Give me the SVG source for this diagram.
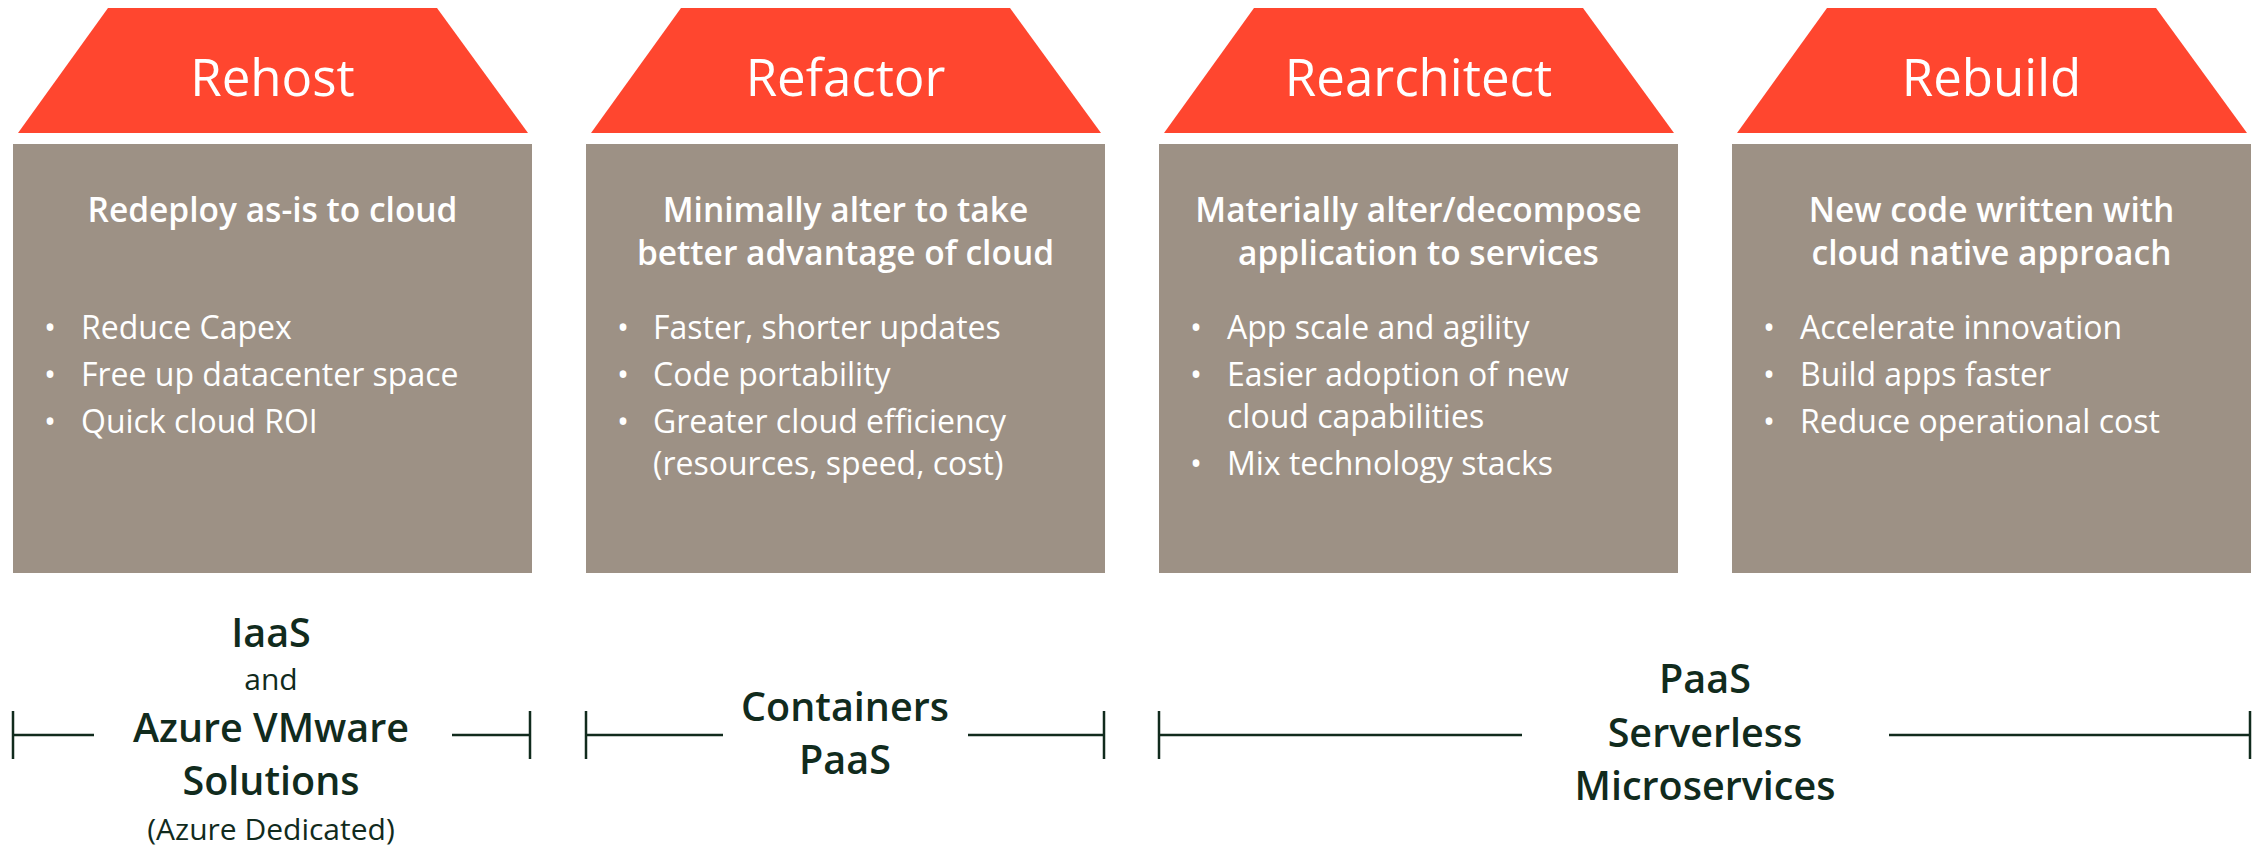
<svg xmlns="http://www.w3.org/2000/svg" width="2257" height="850" viewBox="0 0 2257 850">
<style>
.roof{fill:#ff462f}
.box{fill:#9d9185}
.title{font-family:"Open Sans","Noto Sans","DejaVu Sans",sans-serif;font-size:51px;fill:#ffffff;text-anchor:middle}
.sub{font-family:"Open Sans","Noto Sans","DejaVu Sans",sans-serif;font-size:33.5px;font-weight:600;fill:#ffffff;text-anchor:middle}
.bul{font-family:"Open Sans","Noto Sans","DejaVu Sans",sans-serif;font-size:32px;fill:#ffffff}
.dot{font-family:"Open Sans","Noto Sans","DejaVu Sans",sans-serif;font-size:32px;fill:#ffffff;text-anchor:middle}
.lbl{font-family:"Open Sans","Noto Sans","DejaVu Sans",sans-serif;font-size:39.5px;font-weight:600;fill:#112b1d;text-anchor:middle}
.lblr{font-family:"Open Sans","Noto Sans","DejaVu Sans",sans-serif;font-size:30px;fill:#112b1d;text-anchor:middle}
.br{stroke:#112b1d;stroke-width:2.5;fill:none}
</style>
<rect width="2257" height="850" fill="#ffffff"/>

<g id="rehost">
<polygon class="roof" points="108,8 437,8 528,133 18,133"/>
<rect class="box" x="13" y="144" width="519" height="429"/>
<text class="title" x="272.5" y="96">Rehost</text>
<text class="sub" x="272.5" y="222">Redeploy as-is to cloud</text>
<text class="dot" x="50" y="339">•</text><text class="bul" x="81" y="339">Reduce Capex</text>
<text class="dot" x="50" y="386">•</text><text class="bul" x="81" y="386">Free up datacenter space</text>
<text class="dot" x="50" y="433">•</text><text class="bul" x="81" y="433">Quick cloud ROI</text>
</g>

<g id="refactor">
<polygon class="roof" points="681,8 1010,8 1101,133 591,133"/>
<rect class="box" x="586" y="144" width="519" height="429"/>
<text class="title" x="845.5" y="96">Refactor</text>
<text class="sub" x="845.5" y="222">Minimally alter to take</text>
<text class="sub" x="845.5" y="265">better advantage of cloud</text>
<text class="dot" x="623" y="339">•</text><text class="bul" x="653" y="339">Faster, shorter updates</text>
<text class="dot" x="623" y="386">•</text><text class="bul" x="653" y="386">Code portability</text>
<text class="dot" x="623" y="433">•</text><text class="bul" x="653" y="433">Greater cloud efficiency</text>
<text class="bul" x="653" y="475">(resources, speed, cost)</text>
</g>

<g id="rearchitect">
<polygon class="roof" points="1254,8 1583,8 1674,133 1164,133"/>
<rect class="box" x="1159" y="144" width="519" height="429"/>
<text class="title" x="1418.5" y="96">Rearchitect</text>
<text class="sub" x="1418.5" y="222">Materially alter/decompose</text>
<text class="sub" x="1418.5" y="265">application to services</text>
<text class="dot" x="1196" y="339">•</text><text class="bul" x="1227" y="339">App scale and agility</text>
<text class="dot" x="1196" y="386">•</text><text class="bul" x="1227" y="386">Easier adoption of new</text>
<text class="bul" x="1227" y="428">cloud capabilities</text>
<text class="dot" x="1196" y="475">•</text><text class="bul" x="1227" y="475">Mix technology stacks</text>
</g>

<g id="rebuild">
<polygon class="roof" points="1827,8 2156,8 2247,133 1737,133"/>
<rect class="box" x="1732" y="144" width="519" height="429"/>
<text class="title" x="1991.5" y="96">Rebuild</text>
<text class="sub" x="1991.5" y="222">New code written with</text>
<text class="sub" x="1991.5" y="265">cloud native approach</text>
<text class="dot" x="1769" y="339">•</text><text class="bul" x="1800" y="339">Accelerate innovation</text>
<text class="dot" x="1769" y="386">•</text><text class="bul" x="1800" y="386">Build apps faster</text>
<text class="dot" x="1769" y="433">•</text><text class="bul" x="1800" y="433">Reduce operational cost</text>
</g>

<g id="connectors">
<path class="br" d="M13,711 V759 M13,735 H94 M452,735 H530 M530,711 V759"/>
<path class="br" d="M586,711 V759 M586,735 H723 M968,735 H1104 M1104,711 V759"/>
<path class="br" d="M1159,711 V759 M1159,735 H1522 M1889,735 H2250 M2250,711 V759"/>
</g>

<g id="label-iaas">
<text class="lbl" x="271" y="647">IaaS</text>
<text class="lblr" x="271" y="690">and</text>
<text class="lbl" x="271" y="742">Azure VMware</text>
<text class="lbl" x="271" y="795">Solutions</text>
<text class="lblr" x="271" y="840">(Azure Dedicated)</text>
</g>

<g id="label-containers">
<text class="lbl" x="845" y="721">Containers</text>
<text class="lbl" x="845" y="774">PaaS</text>
</g>

<g id="label-paas">
<text class="lbl" x="1705" y="693">PaaS</text>
<text class="lbl" x="1705" y="747">Serverless</text>
<text class="lbl" x="1705" y="800">Microservices</text>
</g>
</svg>
